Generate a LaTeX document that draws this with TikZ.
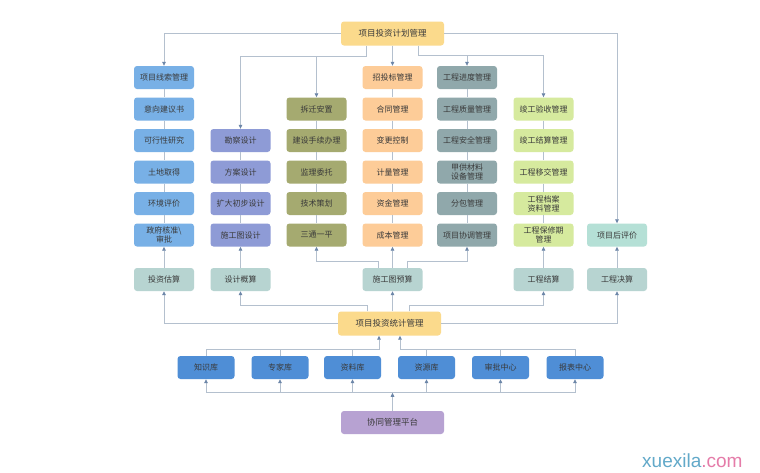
\documentclass[tikz,border=0pt]{standalone}
\usepackage{fontspec}
\setmainfont{Noto Sans CJK SC}
\newfontfamily\wmfont{Liberation Sans}
\usetikzlibrary{arrows.meta}
\definecolor{ylw}{HTML}{FBDA8C}
\definecolor{cblue}{HTML}{78B0E6}
\definecolor{cpurp}{HTML}{8E9BD6}
\definecolor{colive}{HTML}{A5AA70}
\definecolor{corng}{HTML}{FDCC98}
\definecolor{cgray}{HTML}{90A8AB}
\definecolor{cgreen}{HTML}{D6EA9E}
\definecolor{ccalc}{HTML}{B7D4D1}
\definecolor{cpost}{HTML}{B5E0D6}
\definecolor{cbase}{HTML}{4F8ED6}
\definecolor{clav}{HTML}{B7A2D2}
\definecolor{linec}{HTML}{B4C0CE}
\definecolor{arrc}{HTML}{6C86A8}
\definecolor{txt}{HTML}{3A3A3A}
\definecolor{wmblue}{HTML}{62A9C9}
\definecolor{wmpink}{HTML}{E57CA9}
\begin{document}
\begin{tikzpicture}[x=1pt,y=-1pt,
  box/.style={rounded corners=3pt, minimum width=60pt, minimum height=23pt,
    inner sep=1pt, align=center, text=txt,
    font=\fontsize{8}{9}\selectfont},
  wide/.style={box, minimum width=103pt, minimum height=24pt,
    font=\fontsize{8.5}{9.5}\selectfont},
  base/.style={box, minimum width=57pt},
  ln/.style={draw=linec, line width=0.7pt},
  arr/.style={ln, -{Triangle[length=4pt,width=3.6pt,color=arrc]}}]
\useasboundingbox[fill=white] (0,0) rectangle (760,472);

% top
\node[wide, fill=ylw] (plan) at (392.5,33.5) {项目投资计划管理};

% column 1
\node[box, fill=cblue] (a1) at (164,77.5) {项目线索管理};
\node[box, fill=cblue] (a2) at (164,109) {意向建议书};
\node[box, fill=cblue] (a3) at (164,140.5) {可行性研究};
\node[box, fill=cblue] (a4) at (164,172) {土地取得};
\node[box, fill=cblue] (a5) at (164,203.5) {环境评价};
\node[box, fill=cblue] (a6) at (164,235) {政府核准\textbackslash\\审批};
\node[box, fill=ccalc] (a7) at (164,279.5) {投资估算};

% column 2
\node[box, fill=cpurp] (b3) at (240.5,140.5) {勘察设计};
\node[box, fill=cpurp] (b4) at (240.5,172) {方案设计};
\node[box, fill=cpurp] (b5) at (240.5,203.5) {扩大初步设计};
\node[box, fill=cpurp] (b6) at (240.5,235) {施工图设计};
\node[box, fill=ccalc] (b7) at (240.5,279.5) {设计概算};

% column 3
\node[box, fill=colive] (c2) at (316.5,109) {拆迁安置};
\node[box, fill=colive] (c3) at (316.5,140.5) {建设手续办理};
\node[box, fill=colive] (c4) at (316.5,172) {监理委托};
\node[box, fill=colive] (c5) at (316.5,203.5) {技术策划};
\node[box, fill=colive] (c6) at (316.5,235) {三通一平};

% column 4
\node[box, fill=corng] (d1) at (392.5,77.5) {招投标管理};
\node[box, fill=corng] (d2) at (392.5,109) {合同管理};
\node[box, fill=corng] (d3) at (392.5,140.5) {变更控制};
\node[box, fill=corng] (d4) at (392.5,172) {计量管理};
\node[box, fill=corng] (d5) at (392.5,203.5) {资金管理};
\node[box, fill=corng] (d6) at (392.5,235) {成本管理};
\node[box, fill=ccalc] (d7) at (392.5,279.5) {施工图预算};

% column 5
\node[box, fill=cgray] (e1) at (467,77.5) {工程进度管理};
\node[box, fill=cgray] (e2) at (467,109) {工程质量管理};
\node[box, fill=cgray] (e3) at (467,140.5) {工程安全管理};
\node[box, fill=cgray] (e4) at (467,172) {甲供材料\\设备管理};
\node[box, fill=cgray] (e5) at (467,203.5) {分包管理};
\node[box, fill=cgray] (e6) at (467,235) {项目协调管理};

% column 6
\node[box, fill=cgreen] (f2) at (543.5,109) {竣工验收管理};
\node[box, fill=cgreen] (f3) at (543.5,140.5) {竣工结算管理};
\node[box, fill=cgreen] (f4) at (543.5,172) {工程移交管理};
\node[box, fill=cgreen] (f5) at (543.5,203.5) {工程档案\\资料管理};
\node[box, fill=cgreen] (f6) at (543.5,235) {工程保修期\\管理};
\node[box, fill=ccalc] (f7) at (543.5,279.5) {工程结算};

% column 7
\node[box, fill=cpost] (g6) at (617,235) {项目后评价};
\node[box, fill=ccalc] (g7) at (617,279.5) {工程决算};

% statistics
\node[wide, fill=ylw] (stat) at (389.5,323.5) {项目投资统计管理};

% base row
\node[base, fill=cbase] (k1) at (206,367.5) {知识库};
\node[base, fill=cbase] (k2) at (280,367.5) {专家库};
\node[base, fill=cbase] (k3) at (352.5,367.5) {资料库};
\node[base, fill=cbase] (k4) at (426.5,367.5) {资源库};
\node[base, fill=cbase] (k5) at (500.5,367.5) {审批中心};
\node[base, fill=cbase] (k6) at (575,367.5) {报表中心};

% platform
\node[wide, fill=clav, minimum height=23pt] (xt) at (392.5,422.5) {协同管理平台};

% column links
\foreach \u/\v in {a1/a2,a2/a3,a3/a4,a4/a5,a5/a6,
                   b3/b4,b4/b5,b5/b6,
                   c2/c3,c3/c4,c4/c5,c5/c6,
                   d1/d2,d2/d3,d3/d4,d4/d5,d5/d6,
                   e1/e2,e2/e3,e3/e4,e4/e5,e5/e6,
                   f2/f3,f3/f4,f4/f5,f5/f6}
  \draw[ln] (\u.south) -- (\v.north);

% from plan
\draw[arr] (plan.west) -| (a1.north);
\draw[arr] (plan.east) -| (g6.north);
\draw[arr] (plan.south -| d1.north) -- (d1.north);
\coordinate (pL) at ([xshift=-26.5pt]plan.south);
\coordinate (pR) at ([xshift=25.5pt]plan.south);
\path (pL) ++(0,10.5) coordinate (jL);
\path (pR) ++(0,9.5) coordinate (jR);
\draw[arr] (pL) -- (jL) -| (b3.north);
\draw[arr] (c2.north |- jL) -- (c2.north);
\draw[arr] (pR) -- (jR) -| (f2.north);
\draw[arr] (e1.north |- jR) -- (e1.north);

% calc row up
\draw[arr] (a7.north) -- (a6.south);
\draw[arr] (b7.north) -- (b6.south);
\draw[arr] (d7.north) -- (d6.south);
\draw[arr] (f7.north) -- (f6.south);
\draw[arr] (g7.north) -- (g6.south);
\coordinate (dL) at ([xshift=-14.5pt]d7.north);
\coordinate (dR) at ([xshift=14.5pt]d7.north);
\path (dL) ++(0,-6) coordinate (jdL);
\path (dR) ++(0,-6) coordinate (jdR);
\draw[arr] (dL) -- (jdL) -| (c6.south);
\draw[arr] (dR) -- (jdR) -| (e6.south);

% stat up
\draw[arr] (stat.west) -| (a7.south);
\draw[arr] (stat.east) -| (g7.south);
\draw[arr] (d7.south |- stat.north) -- (d7.south);
\coordinate (sL) at ([xshift=-22pt]stat.north);
\coordinate (sR) at ([xshift=20pt]stat.north);
\path (sL) ++(0,-6) coordinate (jsL);
\path (sR) ++(0,-6) coordinate (jsR);
\draw[arr] (sL) -- (jsL) -| (b7.south);
\draw[arr] (sR) -- (jsR) -| (f7.south);

% base row to stat
\coordinate (bL) at ([xshift=-10.5pt]stat.south);
\coordinate (bR) at ([xshift=10.5pt]stat.south);
\path (bL) ++(0,14) coordinate (jbL);
\path (bR) ++(0,14) coordinate (jbR);
\draw[ln] (k1.north) |- (jbL);
\draw[ln] (k2.north) -- (k2.north |- jbL);
\draw[ln] (k3.north) -- (k3.north |- jbL);
\draw[arr] (jbL) -- (bL);
\draw[ln] (k6.north) |- (jbR);
\draw[ln] (k4.north) -- (k4.north |- jbR);
\draw[ln] (k5.north) -- (k5.north |- jbR);
\draw[arr] (jbR) -- (bR);

% platform to base row
\path (xt.north) ++(0,-18) coordinate (jx);
\draw[arr] (xt.north) -- (jx);
\draw[ln] (k1.south |- jx) -- (k6.south |- jx);
\foreach \k in {k1,k2,k3,k4,k5,k6}
  \draw[arr] (\k.south |- jx) -- (\k.south);

% watermark
\node[anchor=base west, inner sep=0pt, font=\wmfont\fontsize{19}{19}\selectfont] (wm) at (642,467)
  {\textcolor{wmblue}{xuexila}\textcolor{wmpink}{.com}};
\end{tikzpicture}
\end{document}
